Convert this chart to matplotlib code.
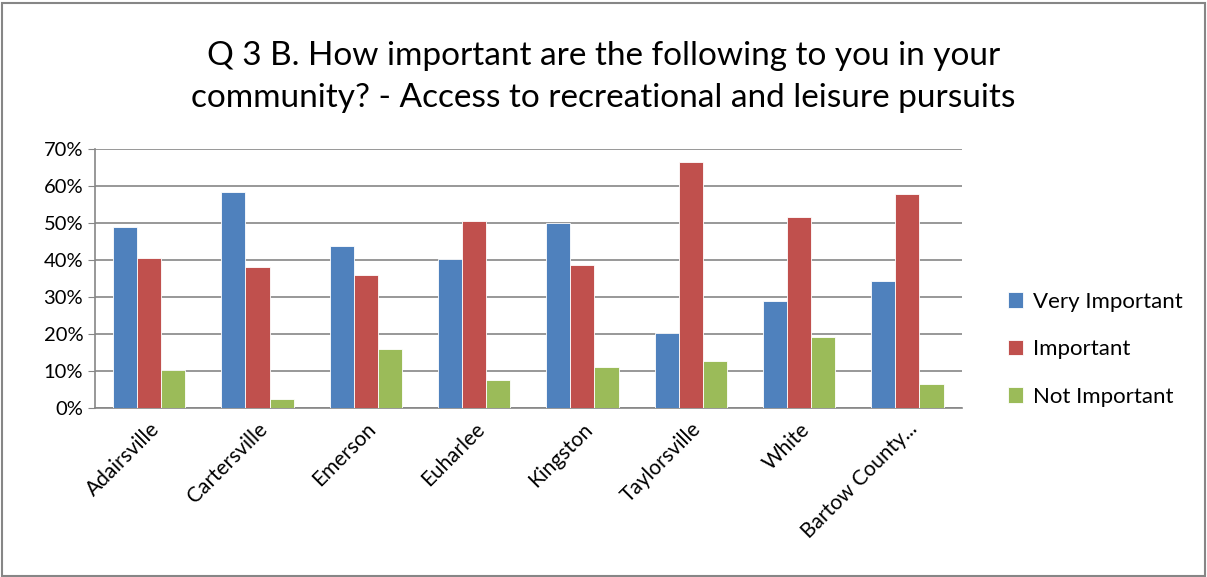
import numpy as np
import matplotlib
matplotlib.use("Agg")
import matplotlib.pyplot as plt
from matplotlib.patches import Rectangle
from matplotlib.ticker import PercentFormatter

# ---------- data ----------
towns = ["Adairsville", "Cartersville", "Emerson", "Euharlee", "Kingston",
         "Taylorsville", "White", "Bartow County..."]
very_important = [48.8, 58.3, 43.9, 40.3, 49.9, 20.3, 28.8, 34.3]
important = [40.5, 38.1, 35.9, 50.5, 38.7, 66.6, 51.5, 57.8]
not_important = [10.3, 2.4, 15.9, 7.7, 11.0, 12.7, 19.2, 6.6]

series = [("Very Important", very_important, "#4F81BD"),
          ("Important", important, "#C0504D"),
          ("Not Important", not_important, "#9BBB59")]

plt.rcParams["font.family"] = ["Lato", "DejaVu Sans"]

fig = plt.figure(figsize=(12.07, 5.77), dpi=100)
ax = fig.add_axes([0.0787, 0.2929, 0.718, 0.4489])

x = np.arange(len(towns))
w = 0.222
for i, (name, vals, col) in enumerate(series):
    ax.bar(x + (i - 1) * w, vals, width=w, color=col, label=name,
           edgecolor="white", linewidth=0.6, zorder=3)

ax.set_xlim(-0.5, len(towns) - 0.5)
ax.set_ylim(0, 70)
ax.set_yticks(range(0, 71, 10))
ax.yaxis.set_major_formatter(PercentFormatter(decimals=0))
ax.grid(axis="y", color="#868686", linewidth=1.2, zorder=0)

ax.set_xticks(x)
ax.set_xticklabels(towns, rotation=45, ha="right", rotation_mode="anchor", fontsize=15)
ax.tick_params(axis="x", length=0, pad=8)
ax.tick_params(axis="y", labelsize=14.5, color="#868686", length=5)

for s in ["top", "right"]:
    ax.spines[s].set_visible(False)
for s in ["left", "bottom"]:
    ax.spines[s].set_color("#868686")
    ax.spines[s].set_linewidth(1.2)

ax.legend(loc="center left", bbox_to_anchor=(1.03, 0.227), frameon=False,
          fontsize=16, handlelength=0.7, handleheight=0.7, labelspacing=1.24,
          handletextpad=0.45)

fig.text(0.5, 0.867, "Q 3 B. How important are the following to you in your\n"
         "community? - Access to recreational and leisure pursuits",
         ha="center", va="center", fontsize=24, linespacing=1.48)

fig.patches.append(Rectangle((0.002, 0.002), 0.996, 0.993, transform=fig.transFigure,
                             fill=False, edgecolor="#868686", linewidth=1.5))

fig.savefig("out.png", dpi=100)
